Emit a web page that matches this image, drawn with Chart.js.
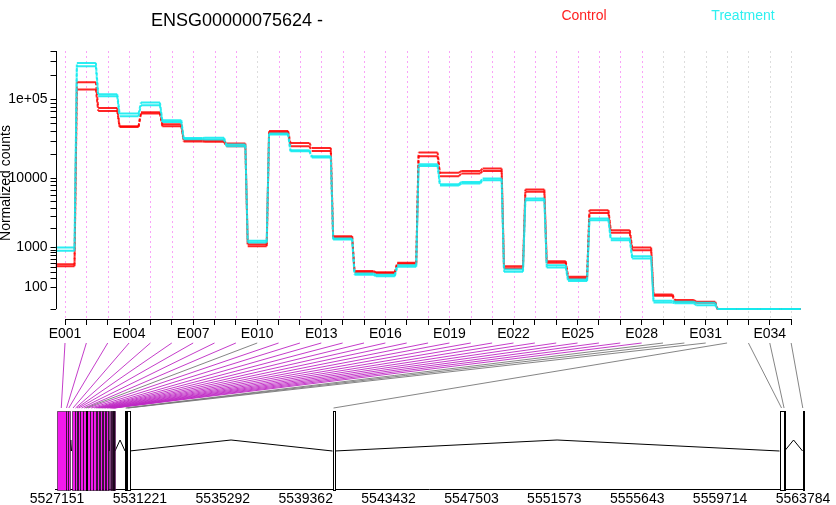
<!DOCTYPE html>
<html><head><meta charset="utf-8">
<script src="https://cdn.jsdelivr.net/npm/chart.js@4"></script>
<style>html,body{margin:0;padding:0;background:#fff}canvas{display:block}</style>
</head><body>
<canvas id="c" width="836" height="505"></canvas>
<script>
// exon bins
const exons = Array.from({length:35}, (_, i) => 'E' + String(i + 1).padStart(3, '0'));

// normalized counts per exon (two replicates per condition)
const control1   = [473, 163500, 78200, 46100, 69100, 48900, 30800, 30500, 27900, 1141, 40300, 28400, 24600, 1544, 325, 306, 505, 21500, 11800, 12500, 13400, 427, 7150, 548, 228, 3750, 1915, 1000, 45, 17, 11, 0, 0, 0, 0];
const control2   = [427, 132700, 71700, 45200, 66500, 46100, 29600, 29400, 25800, 1054, 38500, 25800, 22500, 1471, 306, 289, 485, 19300, 10700, 11600, 12500, 384, 6650, 505, 209, 3430, 1740, 895, 37, 11, 8, 0, 0, 0, 0];
const treatment1 = [1000, 284100, 115800, 66500, 91300, 54900, 32900, 33000, 27100, 1295, 37400, 23000, 19300, 1418, 283, 260, 450, 15250, 8400, 9000, 9970, 358, 5420, 450, 191, 2860, 1418, 692, 14, 11, 8, 0, 0, 0, 0];
const treatment2 = [870, 258400, 109400, 61600, 84500, 52200, 31700, 31500, 25800, 1218, 36300, 22300, 18600, 1366, 260, 239, 412, 14500, 8080, 8580, 9470, 312, 5140, 399, 169, 2700, 1330, 623, 9, 7, 3, 0, 0, 0, 0];

// gene model (genomic coordinates of each exon bin)
const exonStart = [5527151, 5527568, 5527667, 5527863, 5528010, 5528109, 5528158, 5528281, 5528428, 5528551, 5528585, 5528747, 5528919, 5529042, 5529115, 5529189, 5529263, 5529336, 5529410, 5529484, 5529557, 5529656, 5529729, 5529778, 5529828, 5529877, 5529916, 5529960, 5530491, 5530540, 5530579, 5540681, 5562633, 5562829, 5563763];
const exonEnd   = [5527568, 5527667, 5527789, 5528010, 5528109, 5528158, 5528281, 5528428, 5528551, 5528585, 5528747, 5528919, 5529042, 5529115, 5529189, 5529263, 5529336, 5529410, 5529484, 5529557, 5529656, 5529705, 5529778, 5529828, 5529877, 5529916, 5529960, 5529999, 5530540, 5530579, 5530712, 5540779, 5562829, 5562879, 5563784];
const significant = exons.map((e, i) => i < 28 && e !== 'E010');

const yTicks = [0, 100, 200, 300, 400, 500, 600, 700, 800, 900, 1000, 2000, 3000, 4000, 5000, 6000, 7000, 8000, 9000,
  10000, 20000, 30000, 40000, 50000, 60000, 70000, 80000, 90000, 100000, 200000, 300000, 400000];
const yLabels = {100: '100', 1000: '1000', 10000: '10000', 100000: '1e+05'};
const genomeTicks = [5527151, 5531221, 5535292, 5539362, 5543432, 5547503, 5551573, 5555643, 5559714, 5563784];

const vst = c => Math.asinh(Math.sqrt(0.001 * c));
const Y_MAX = vst(400000), Y_MIN = -2.5786, X_AXIS_T = -0.143;
const SEG = 0.89, TICK_OFF = 0.445;
const FONT = '"Liberation Sans", Arial, sans-serif';

function steps(vals){
    const pts = [];
    vals.forEach((v, i) => { pts.push({x: i, y: vst(v)}); pts.push({x: i + SEG, y: vst(v)}); });
    return pts;
}
function series(vals, col){
    return { data: steps(vals), borderColor: col, borderWidth: 2, pointRadius: 0, fill: false, tension: 0,
        xAxisID: 'x', yAxisID: 'y',
        segment: { borderDash: ctx => ctx.p0DataIndex % 2 ? [3, 2] : undefined } };
}

const deco = {
    id: 'deco',
    beforeDatasetsDraw(chart){
        const {ctx, scales: {x, y}} = chart;
        const top = y.getPixelForValue(Y_MAX), bot = y.getPixelForValue(X_AXIS_T);
        ctx.save(); ctx.lineWidth = 1; ctx.setLineDash([2, 3]);
        exons.forEach((e, i) => {
            const px = Math.round(x.getPixelForValue(i + TICK_OFF)) + 0.5;
            ctx.strokeStyle = significant[i] ? 'rgba(242,25,237,0.4)' : 'rgba(179,179,179,0.45)';
            ctx.beginPath(); ctx.moveTo(px, top); ctx.lineTo(px, bot); ctx.stroke();
        });
        ctx.restore();
    },
    afterDraw(chart){
        const {ctx, scales: {x, y, xg}} = chart;
        ctx.save();
        ctx.strokeStyle = '#000'; ctx.lineWidth = 1;
        // axis lines, R style (first to last tick)
        const ax = Math.round(y.left + y.width) + 0.5;
        ctx.beginPath(); ctx.moveTo(ax, y.getPixelForValue(0)); ctx.lineTo(ax, y.getPixelForValue(Y_MAX)); ctx.stroke();
        const ay = Math.round(y.getPixelForValue(X_AXIS_T)) + 0.5;
        ctx.beginPath(); ctx.moveTo(x.getPixelForValue(TICK_OFF), ay); ctx.lineTo(x.getPixelForValue(34 + TICK_OFF), ay); ctx.stroke();

        // texts
        ctx.fillStyle = '#000'; ctx.textAlign = 'center'; ctx.textBaseline = 'middle';
        ctx.font = '18px ' + FONT; ctx.fillText('ENSG00000075624 -', 237, 21);
        ctx.font = '14px ' + FONT;
        ctx.fillStyle = '#ff2020'; ctx.fillText('Control', 584, 16);
        ctx.fillStyle = '#2ef0f0'; ctx.fillText('Treatment', 743, 16);
        ctx.save(); ctx.translate(9.5, 183); ctx.rotate(-Math.PI / 2);
        ctx.fillStyle = '#000'; ctx.textBaseline = 'alphabetic'; ctx.fillText('Normalized counts', 0, 0);
        ctx.restore();

        // gene model
        const gTop = 411.5, gBot = Math.round(xg.top) + 0.5, gMid = 451, gApex = 440, cTop = 343, cBot = 408;
        exons.forEach((e, i) => {
            ctx.strokeStyle = significant[i] ? 'rgba(190,40,195,0.9)' : 'rgba(120,120,120,0.9)';
            ctx.beginPath();
            ctx.moveTo(x.getPixelForValue(i + TICK_OFF), cTop);
            ctx.lineTo(xg.getPixelForValue((exonStart[i] + exonEnd[i]) / 2), cBot);
            ctx.stroke();
        });
        ctx.strokeStyle = '#000';
        for (let i = 0; i < exons.length - 1; i++){
            if (exonStart[i + 1] <= exonEnd[i]) continue;
            const a = xg.getPixelForValue(exonEnd[i]), b = xg.getPixelForValue(exonStart[i + 1]);
            ctx.beginPath(); ctx.moveTo(a, gMid); ctx.lineTo((a + b) / 2, gApex); ctx.lineTo(b, gMid); ctx.stroke();
        }
        exons.forEach((e, i) => {
            const a = Math.round(xg.getPixelForValue(exonStart[i])) + 0.5;
            const b = Math.max(a + 1, Math.round(xg.getPixelForValue(exonEnd[i])) + 0.5);
            ctx.fillStyle = significant[i] ? '#f219ed' : '#fff';
            ctx.fillRect(a, gTop, b - a, gBot - gTop);
        });
        exons.forEach((e, i) => {
            const a = Math.round(xg.getPixelForValue(exonStart[i])) + 0.5;
            const b = Math.max(a + 1, Math.round(xg.getPixelForValue(exonEnd[i])) + 0.5);
            ctx.strokeStyle = significant[i] ? 'rgba(0,0,0,0.5)' : '#000';
            ctx.strokeRect(a, gTop, b - a, gBot - gTop);
        });
        ctx.restore();
    }
};

new Chart(document.getElementById('c'), {
    type: 'line',
    data: { datasets: [
        series(treatment1, 'rgba(20,235,240,0.9)'),
        series(treatment2, 'rgba(20,235,240,0.9)'),
        series(control1, 'rgba(255,0,0,0.85)'),
        series(control2, 'rgba(255,0,0,0.85)')
    ]},
    options: {
        responsive: false, animation: false,
        layout: { padding: {top: 51, right: 33, bottom: 0, left: 0} },
        plugins: { legend: {display: false}, tooltip: {enabled: false}, title: {display: false} },
        scales: {
            x: {
                type: 'linear', axis: 'x', min: 0, max: 35, position: {y: X_AXIS_T},
                afterBuildTicks: s => { s.ticks = exons.map((e, i) => ({value: i + TICK_OFF})); },
                ticks: { autoSkip: false, maxRotation: 0, color: '#000', padding: 1, font: {family: FONT, size: 14},
                    callback: (v, i) => i % 3 === 0 ? exons[i] : '' },
                grid: { drawOnChartArea: false, tickLength: 6, color: '#000' },
                border: { display: false }
            },
            xg: {
                type: 'linear', axis: 'x', position: 'bottom', min: 5527076, max: 5563784,
                afterBuildTicks: s => { s.ticks = genomeTicks.map(v => ({value: v})); },
                afterFit: s => { s.height = 15.5; },
                ticks: { autoSkip: false, maxRotation: 0, color: '#000', padding: 1, font: {family: FONT, size: 14},
                    callback: v => String(v) },
                grid: { drawOnChartArea: false, drawTicks: false, color: '#000' },
                border: { display: true, color: '#000' }
            },
            y: {
                type: 'linear', min: Y_MIN, max: Y_MAX,
                afterBuildTicks: s => { s.ticks = yTicks.map(v => ({value: vst(v)})); },
                afterFit: s => { s.width = 55.5; },
                ticks: { autoSkip: false, color: '#000', padding: 3, font: {family: FONT, size: 14},
                    callback: (v, i) => yLabels[yTicks[i]] || '' },
                grid: { drawOnChartArea: false, tickLength: 5, color: '#000' },
                border: { display: false }
            }
        }
    },
    plugins: [deco]
});
</script>
</body></html>
